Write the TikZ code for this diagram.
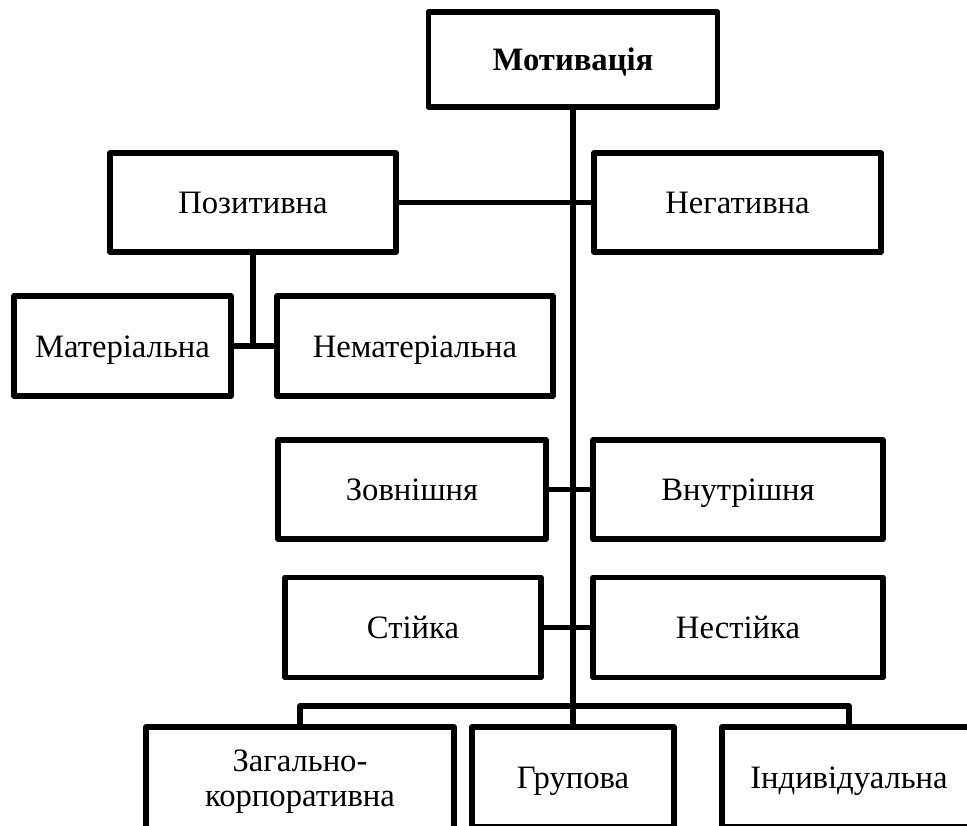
\documentclass[tikz,border=0pt]{standalone}
\usepackage{fontspec}
\setmainfont{Liberation Serif}
\begin{document}
\begin{tikzpicture}[x=0.75pt,y=-0.75pt,
  box/.style={draw, line width=4.2pt, line join=round, fill=white, inner sep=0pt,
    font=\fontsize{24.5}{26.25}\selectfont, align=center},
  oneline/.style={box, text height=21.6pt, text depth=4.8pt},
  conn/.style={line width=4pt, line join=round}]
\useasboundingbox (0,0) rectangle (967,825);
\clip (0,0) rectangle (967,825);
\fill[white] (0,0) rectangle (967,825);

\node[oneline, minimum width=216.75pt, minimum height=71.25pt, font=\fontsize{24.5}{26.25}\selectfont\bfseries] (mot) at (573,59.5) {Мотивація};
\node[oneline, minimum width=214.5pt, minimum height=74.25pt] (pos) at (253,202.5) {Позитивна};
\node[oneline, minimum width=215.25pt, minimum height=74.25pt] (neg) at (737.5,202.5) {Негативна};
\node[oneline, minimum width=162.75pt, minimum height=75pt] (mat) at (122.5,346) {Матеріальна};
\node[oneline, minimum width=207pt, minimum height=75pt] (nemat) at (415,346) {Нематеріальна};
\node[oneline, minimum width=201pt, minimum height=74.25pt] (zov) at (412,489.5) {Зовнішня};
\node[oneline, minimum width=217.5pt, minimum height=74.25pt] (vnu) at (738,489.5) {Внутрішня};
\node[oneline, minimum width=192pt, minimum height=75pt] (sti) at (413,627.5) {Стійка};
\node[oneline, minimum width=217.5pt, minimum height=75pt] (nes) at (738,627.5) {Нестійка};
\node[box, minimum width=231pt, minimum height=82.5pt] (zag) at (300,782) {Загально-\\корпоративна};
\node[oneline, minimum width=151.5pt, minimum height=75pt] (gru) at (573,777) {Групова};
\node[oneline, minimum width=190.5pt, minimum height=75pt] (ind) at (849,777) {Індивідуальна};

\coordinate (bus) at (573,706);

\draw[conn] (mot.south) -- (gru.north);
\draw[conn] (pos.east) -- (neg.west);
\draw[conn] (pos.south) -- (pos.south |- mat.east);
\draw[conn] (mat.east) -- (nemat.west);
\draw[conn] (zov.east) -- (vnu.west);
\draw[conn] (sti.east) -- (nes.west);
\draw[conn] (zag.north) |- (bus) -| (ind.north);
\end{tikzpicture}
\end{document}
